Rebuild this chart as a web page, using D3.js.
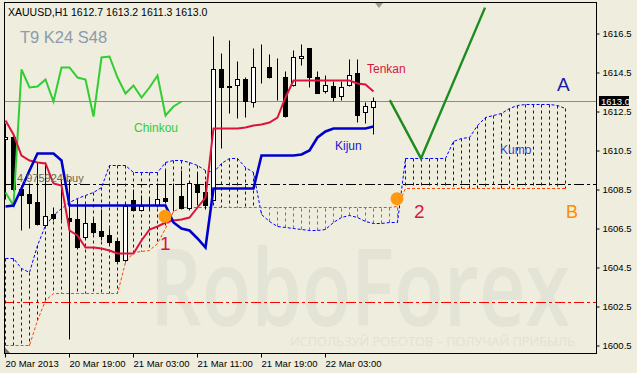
<!DOCTYPE html>
<html>
<head>
<meta charset="utf-8">
<script src="https://cdn.jsdelivr.net/npm/d3@7"></script>
<style>
  html, body { margin: 0; padding: 0; background: #eeedde; }
  svg { display: block; font-family: "Liberation Sans", Arial, sans-serif; }
</style>
</head>
<body>
<svg id="chart" width="637" height="373"></svg>
<script>
// XAUUSD H1, 20 Mar 2013 11:00 ... 22 Mar 2013 09:00 (47 bars)
const opens = [1611.05, 1611.17, 1608.50, 1608.24, 1607.83, 1606.65, 1607.22, 1607.00, 1607.00, 1606.96,
  1606.04, 1606.76, 1606.35, 1606.14, 1605.83, 1604.86, 1607.94, 1607.42, 1607.63, 1607.68,
  1608.04, 1608.14, 1608.14, 1607.53, 1608.71, 1608.35, 1607.94, 1614.65, 1613.73, 1613.83,
  1614.14, 1612.96, 1614.76, 1614.76, 1614.14, 1614.24, 1613.83, 1615.22, 1615.73, 1614.24,
  1613.53, 1613.78, 1613.27, 1613.83, 1614.45, 1612.45, 1612.70];
const highs = [1611.90, 1611.30, 1608.71, 1608.81, 1609.88, 1609.88, 1607.60, 1609.00, 1609.00, 1607.94,
  1607.70, 1607.00, 1607.50, 1606.50, 1606.00, 1607.80, 1608.50, 1608.20, 1608.10, 1608.80,
  1609.47, 1608.80, 1609.47, 1608.90, 1609.32, 1608.90, 1616.35, 1615.47, 1616.14, 1615.06,
  1614.24, 1615.73, 1615.94, 1615.42, 1615.22, 1614.55, 1615.63, 1615.94, 1615.73, 1614.55,
  1614.35, 1614.04, 1614.04, 1615.17, 1615.17, 1612.96, 1613.20];
const lows = [1608.00, 1608.40, 1606.40, 1606.50, 1606.65, 1606.60, 1606.90, 1606.90, 1600.80, 1605.50,
  1606.00, 1606.20, 1605.90, 1605.70, 1604.80, 1604.80, 1607.40, 1607.40, 1607.50, 1607.60,
  1607.80, 1607.42, 1607.50, 1607.40, 1607.68, 1607.50, 1607.90, 1610.60, 1612.40, 1612.14,
  1612.19, 1612.70, 1613.94, 1614.20, 1613.06, 1612.20, 1613.80, 1614.86, 1613.73, 1613.40,
  1613.42, 1613.01, 1613.06, 1613.80, 1611.94, 1611.88, 1611.30];
const closes = [1611.15, 1608.50, 1608.19, 1607.78, 1606.71, 1607.12, 1607.01, 1607.02, 1606.86, 1605.53,
  1606.76, 1606.30, 1606.09, 1605.78, 1604.81, 1607.63, 1607.42, 1607.63, 1607.63, 1607.99,
  1607.88, 1608.14, 1607.53, 1608.81, 1608.35, 1607.68, 1614.65, 1613.73, 1613.78, 1614.14,
  1613.01, 1614.76, 1614.76, 1614.24, 1614.14, 1612.24, 1615.27, 1615.32, 1614.24, 1613.42,
  1613.83, 1613.22, 1613.73, 1614.35, 1612.29, 1612.76, 1613.00];

const tenkan = [1612.04, 1611.32, 1610.24, 1609.99, 1609.88, 1609.83, 1608.81, 1608.71, 1606.40, 1606.14,
  1605.53, 1605.53, 1605.47, 1605.37, 1605.22, 1605.22, 1605.22, 1605.88, 1606.45, 1606.60,
  1606.81, 1606.91, 1606.96, 1607.06, 1607.58, 1608.09, 1611.63, 1611.63, 1611.63, 1611.63,
  1611.68, 1611.78, 1611.83, 1611.94, 1612.19, 1613.22, 1614.09, 1614.09, 1614.09, 1614.09,
  1614.09, 1614.09, 1614.09, 1614.09, 1613.94, 1613.88, 1613.53];
const kijun = [1607.63, 1607.68, 1608.55, 1609.47, 1610.35, 1610.35, 1610.35, 1609.99, 1607.68, 1607.68,
  1607.68, 1607.68, 1607.68, 1607.68, 1607.68, 1607.68, 1607.68, 1607.68, 1607.68, 1607.68,
  1607.68, 1606.81, 1606.50, 1606.40, 1605.99, 1605.53, 1608.55, 1608.55, 1608.55, 1608.55,
  1608.55, 1608.55, 1610.24, 1610.24, 1610.24, 1610.24, 1610.24, 1610.29, 1610.50, 1611.17,
  1611.47, 1611.63, 1611.63, 1611.63, 1611.63, 1611.63, 1611.73];
// Senkou spans, bars 0..70 (24 bars ahead of the last candle)
const spanA = [1604.96, 1604.96, 1604.45, 1604.24, 1605.63, 1606.65, 1607.17, 1607.53, 1607.83, 1608.04,
  1608.19, 1608.35, 1608.60, 1609.73, 1609.73, 1609.73, 1609.37, 1609.37, 1609.37, 1609.37,
  1609.88, 1609.99, 1609.99, 1609.88, 1609.73, 1609.47, 1609.37, 1609.83, 1610.09, 1610.09,
  1609.63, 1609.37, 1607.22, 1606.86, 1606.60, 1606.55, 1606.50, 1606.45, 1606.40, 1606.40,
  1606.45, 1606.81, 1607.06, 1607.17, 1607.06, 1606.86, 1606.76, 1606.76, 1606.81, 1606.81,
  1610.09, 1610.09, 1610.09, 1610.09, 1610.09, 1610.09, 1610.96, 1611.12, 1611.17, 1611.78,
  1612.19, 1612.29, 1612.40, 1612.65, 1612.81, 1612.86, 1612.86, 1612.86, 1612.86, 1612.81,
  1612.65];
const spanB = [1600.50, 1600.50, 1600.50, 1600.50, 1601.78, 1602.81, 1603.17, 1603.17, 1603.17, 1603.17,
  1603.17, 1603.17, 1603.17, 1603.17, 1603.17, 1604.76, 1605.27, 1605.32, 1605.37, 1605.73,
  1606.50, 1607.37, 1607.58, 1607.58, 1607.58, 1607.58, 1607.58, 1607.58, 1607.58, 1607.58,
  1607.58, 1607.58, 1607.58, 1607.58, 1607.58, 1607.58, 1607.58, 1607.58, 1607.58, 1607.58,
  1607.58, 1607.58, 1607.58, 1607.58, 1607.58, 1607.58, 1607.58, 1607.58, 1607.58, 1607.63,
  1608.55, 1608.55, 1608.55, 1608.55, 1608.55, 1608.55, 1608.55, 1608.55, 1608.55, 1608.55,
  1608.55, 1608.55, 1608.55, 1608.55, 1608.55, 1608.55, 1608.55, 1608.55, 1608.55, 1608.55,
  1608.55];
const chinkouShift = 24;

// drawn objects on the chart
const currentPrice = 1613.0;
const blackLevel = 1608.78;
const redLevel = 1602.71;
const forecastBars = [48.1, 52, 60];
const forecastPrices = [1613.06, 1610.07, 1617.8];
const markerBars = [20, 49];
const markerPrices = [1607.1, 1608.0];

const priceTicks = [1600.5, 1602.5, 1604.5, 1606.5, 1608.5, 1610.5, 1612.5, 1614.5, 1616.5];
const timeTickBars = [0, 8, 16, 24, 32, 40];
const timeLabels = ['20 Mar 2013', '20 Mar 19:00', '21 Mar 03:00', '21 Mar 11:00', '21 Mar 19:00', '22 Mar 03:00'];

const plotL = 4, plotT = 2, plotR = 596, plotB = 353;
const x = d3.scaleLinear().domain([0, 74]).range([5, 597]);
const y = d3.scaleLinear().domain([1600.5, 1616.5]).range([345, 33]);
const px = v => Math.round(x(v)) + 0.5;
const py = v => Math.round(y(v)) + 0.5;

const svg = d3.select('#chart');
svg.append('rect').attr('width', 637).attr('height', 373).attr('fill', '#eeedde');

svg.append('defs').append('clipPath').attr('id', 'plot')
  .append('rect').attr('x', plotL).attr('y', plotT).attr('width', plotR - plotL).attr('height', plotB - plotT);

const g = svg.append('g').attr('clip-path', 'url(#plot)');

// watermark
g.append('text')
  .attr('x', 150).attr('y', 326)
  .attr('font-family', '"Open Sans", sans-serif')
  .attr('font-weight', 600)
  .attr('font-size', 106)
  .attr('textLength', 420).attr('lengthAdjust', 'spacingAndGlyphs')
  .attr('fill', '#e4e4d6')
  .text('RoboForex');
g.append('text')
  .attr('x', 290).attr('y', 346)
  .attr('font-family', '"Open Sans", sans-serif')
  .attr('font-size', 13)
  .attr('textLength', 285).attr('lengthAdjust', 'spacingAndGlyphs')
  .attr('fill', '#e2e2d4')
  .text('ИСПОЛЬЗУЙ РОБОТОВ – ПОЛУЧАЙ ПРИБЫЛЬ');

// horizontal levels
g.append('line')
  .attr('x1', plotL).attr('x2', plotR).attr('y1', py(redLevel)).attr('y2', py(redLevel))
  .attr('stroke', '#ff0000').attr('stroke-dasharray', '10,3,3,3');
g.append('line')
  .attr('x1', plotL).attr('x2', plotR).attr('y1', py(blackLevel)).attr('y2', py(blackLevel))
  .attr('stroke', '#000').attr('stroke-dasharray', '10,3,3,3');
g.append('line')
  .attr('x1', plotL).attr('x2', plotR).attr('y1', py(currentPrice)).attr('y2', py(currentPrice))
  .attr('stroke', '#7f8fa0');

// kumo hatch
const cloud = d3.range(spanA.length);
g.append('g')
  .selectAll('line')
  .data(cloud)
  .join('line')
  .attr('x1', i => px(i)).attr('x2', i => px(i))
  .attr('y1', i => py(spanA[i])).attr('y2', i => py(spanB[i]))
  .attr('stroke', i => spanA[i] >= spanB[i] ? '#0000ff' : '#ff4500')
  .attr('stroke-dasharray', '3,3');

const lineOf = arr => d3.line().x((d, i) => px(i)).y(d => py(d))(arr);

g.append('path').attr('d', lineOf(spanA))
  .attr('fill', 'none').attr('stroke', '#0000ff').attr('stroke-dasharray', '3,2');
g.append('path').attr('d', lineOf(spanB))
  .attr('fill', 'none').attr('stroke', '#ff4500').attr('stroke-dasharray', '3,2');

// candles
const bars = d3.range(closes.length);
const candle = g.append('g').selectAll('g').data(bars).join('g');
candle.append('line')
  .attr('x1', i => px(i)).attr('x2', i => px(i))
  .attr('y1', i => py(highs[i])).attr('y2', i => py(lows[i]))
  .attr('stroke', '#000');
candle.append('rect')
  .attr('x', i => px(i) - 2).attr('width', 4)
  .attr('y', i => py(Math.max(opens[i], closes[i])))
  .attr('height', i => Math.max(0, py(Math.min(opens[i], closes[i])) - py(Math.max(opens[i], closes[i]))))
  .attr('fill', i => closes[i] >= opens[i] ? '#fff' : '#000')
  .attr('stroke', '#000');

// chinkou
const chinkou = closes.slice(chinkouShift);
g.append('path').attr('d', lineOf(chinkou))
  .attr('fill', 'none').attr('stroke', '#32cd32').attr('stroke-width', 2);

// tenkan / kijun
g.append('path').attr('d', lineOf(tenkan))
  .attr('fill', 'none').attr('stroke', '#dc143c').attr('stroke-width', 2);
g.append('path').attr('d', lineOf(kijun))
  .attr('fill', 'none').attr('stroke', '#0000cd').attr('stroke-width', 2.6);

// forecast
g.append('path')
  .attr('d', d3.line().x((d, i) => x(forecastBars[i])).y(d => y(d))(forecastPrices))
  .attr('fill', 'none').attr('stroke', '#1e8c1e').attr('stroke-width', 2.4);

g.selectAll('circle.mark')
  .data(markerBars)
  .join('circle')
  .attr('class', 'mark')
  .attr('cx', (d, i) => x(d)).attr('cy', (d, i) => y(markerPrices[i]))
  .attr('r', 6.5)
  .attr('fill', '#ff9a10');

// labels
const labels = [
  { t: 'T9 K24 S48', x: 20, y: 43, s: 16.5, c: '#8d9aab' },
  { t: 'Chinkou', x: 134, y: 132, s: 12, c: '#32cd32' },
  { t: 'Tenkan', x: 367, y: 73, s: 12, c: '#dc143c' },
  { t: 'Kijun', x: 335, y: 150, s: 12, c: '#2020d0' },
  { t: 'Kumo', x: 500, y: 154, s: 12, c: '#3b3bd0' },
  { t: 'A', x: 557, y: 91, s: 19, c: '#1a1aa8' },
  { t: 'B', x: 566, y: 218, s: 18, c: '#ff8c00' },
  { t: '1', x: 160, y: 250, s: 19, c: '#dc143c' },
  { t: '2', x: 414, y: 218, s: 19, c: '#dc143c' },
  { t: '4.975924 buy', x: 17, y: 182, s: 11, c: '#6f6550' }
];
g.selectAll('text.lbl')
  .data(labels)
  .join('text')
  .attr('class', 'lbl')
  .attr('x', d => d.x).attr('y', d => d.y)
  .attr('font-size', d => d.s)
  .attr('fill', d => d.c)
  .text(d => d.t);

const last = closes.length - 1;
g.append('text')
  .attr('x', 8).attr('y', 16)
  .attr('font-size', 10.5)
  .attr('fill', '#000')
  .text(`XAUUSD,H1  ${opens[last].toFixed(1)} ${highs[last].toFixed(1)} ${lows[last].toFixed(1)} ${closes[last].toFixed(1)}`);

// chart shift markers
svg.append('path').attr('d', 'M375,3 L383,3 L379,8 Z').attr('fill', '#9a9a9a');
svg.append('path').attr('d', 'M4.5,347 L4.5,353 L10,353 Z').attr('fill', '#707070');

// frame
svg.append('rect')
  .attr('x', plotL + 0.5).attr('y', plotT + 0.5)
  .attr('width', plotR - plotL).attr('height', plotB - plotT)
  .attr('fill', 'none').attr('stroke', '#000');

// axes
const yAxis = svg.append('g')
  .attr('transform', `translate(${plotR + 0.5},0.5)`)
  .call(d3.axisRight(y).tickValues(priceTicks).tickSize(3).tickPadding(3).tickFormat(d3.format('.1f')));
yAxis.select('.domain').remove();
yAxis.selectAll('text').attr('font-size', 9.5).attr('font-family', '"Liberation Sans", Arial, sans-serif').attr('fill', '#000');

const xAxis = svg.append('g')
  .attr('transform', `translate(0,${plotB + 0.5})`)
  .call(d3.axisBottom(x).tickValues(timeTickBars).tickSize(4).tickFormat((d, i) => timeLabels[i]));
xAxis.select('.domain').remove();
xAxis.selectAll('.tick').attr('transform', d => `translate(${px(d)},0)`);
xAxis.selectAll('text')
  .attr('text-anchor', 'start').attr('x', 0).attr('dy', 0).attr('y', 13)
  .attr('font-size', 9.5).attr('font-family', '"Liberation Sans", Arial, sans-serif').attr('fill', '#000');

// current price tag
svg.append('rect').attr('x', 599).attr('y', Math.round(y(currentPrice)) - 5).attr('width', 30).attr('height', 10).attr('fill', '#000');
svg.append('text')
  .attr('x', 601).attr('y', Math.round(y(currentPrice)) + 3.5)
  .attr('font-size', 9.5).attr('fill', '#fff')
  .text(currentPrice.toFixed(1));
</script>
</body>
</html>
